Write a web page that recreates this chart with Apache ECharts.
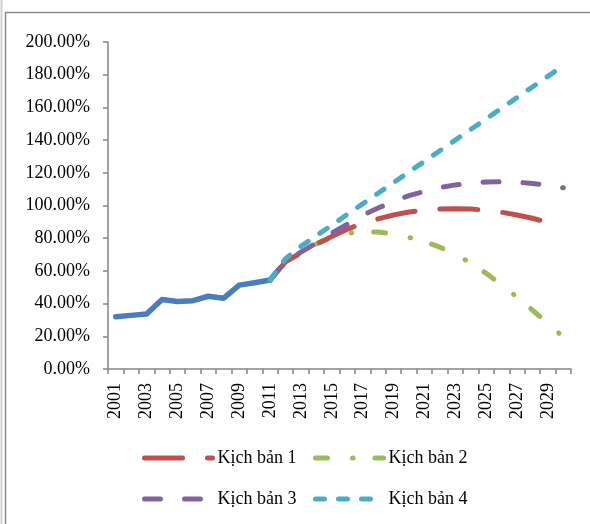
<!DOCTYPE html>
<html>
<head>
<meta charset="utf-8">
<script src="https://cdn.jsdelivr.net/npm/echarts@6/dist/echarts.min.js"></script>
<style>
html,body{margin:0;padding:0;background:#fff;}
#chart{width:590px;height:524px;}
</style>
</head>
<body>
<div id="chart"></div>
<script>
const years = ['2001','2002','2003','2004','2005','2006','2007','2008','2009','2010','2011','2012','2013','2014','2015','2016','2017','2018','2019','2020','2021','2022','2023','2024','2025','2026','2027','2028','2029','2030'];
const actual = [32.0, 32.8, 33.6, 42.5, 41.3, 41.8, 44.5, 43.3, 51.3, 52.8, 54.4, null, null, null, null, null, null, null, null, null, null, null, null, null, null, null, null, null, null, null];
const scenario1 = [null, null, null, null, null, null, null, null, null, null, 54.4, 65.5, 71.0, 76.5, 81.0, 85.5, 89.0, 91.8, 94.2, 96.0, 97.2, 97.8, 98.0, 97.8, 97.1, 95.9, 94.2, 92.2, 89.7, 87.0];
const scenario2 = [null, null, null, null, null, null, null, null, null, null, 54.4, 66.0, 71.0, 76.5, 80.5, 83.0, 84.0, 83.8, 82.5, 80.5, 78.0, 74.5, 70.0, 65.0, 58.5, 51.5, 44.0, 36.0, 28.0, 19.5];
const scenario3 = [null, null, null, null, null, null, null, null, null, null, 54.4, 66.0, 71.5, 77.0, 83.0, 88.5, 94.0, 98.5, 102.5, 106.0, 108.7, 111.0, 112.6, 113.7, 114.4, 114.6, 114.3, 113.5, 112.3, 110.8];
const scenario4 = [null, null, null, null, null, null, null, null, null, null, 54.4, 67.5, 75.0, 81.5, 88.0, 94.5, 101.0, 107.5, 114.0, 120.5, 127.0, 133.5, 140.0, 146.5, 153.0, 159.5, 166.0, 172.5, 179.0, 185.5];
const seriesNames = ['Kịch bản 1', 'Kịch bản 2', 'Kịch bản 3', 'Kịch bản 4'];
const yTicks = [0, 20, 40, 60, 80, 100, 120, 140, 160, 180, 200];

const FONT = '"Liberation Serif", "DejaVu Serif", serif';
const AX = '#868686';
const chart = echarts.init(document.getElementById('chart'), null, {renderer: 'canvas'});

function lineSeries(name, data, color, dash, z) {
  return {
    name: name, type: 'line', data: data, symbol: 'none', smooth: false,
    connectNulls: false, z: z,
    lineStyle: {color: color, width: 5, type: dash, cap: 'round', join: 'round'},
    itemStyle: {color: color},
    emphasis: {disabled: true}
  };
}

function legendAt(name, left, top) {
  return {
    data: [name], left: left, top: top, itemWidth: 68, itemHeight: 14, itemGap: 0,
    padding: 0, selectedMode: false,
    lineStyle: {width: 5, cap: 'round'},
    itemStyle: {opacity: 0, color: 'rgba(0,0,0,0)', borderWidth: 0},
    textStyle: {fontFamily: FONT, fontSize: 18, color: '#000'}
  };
}

chart.setOption({
  animation: false,
  backgroundColor: '#fff',
  graphic: [
    {type: 'line', shape: {x1: 1.5, y1: 0, x2: 1.5, y2: 524}, style: {stroke: '#d0d0d0', lineWidth: 2}, silent: true},
    {type: 'rect', shape: {x: 5.5, y: 12.5, width: 620, height: 530}, style: {fill: null, stroke: '#8a8a8a', lineWidth: 1.5}, silent: true}
  ],
  grid: {left: 108, right: 19, top: 42, bottom: 155, containLabel: false},
  legend: [
    legendAt(seriesNames[0], 142, 449),
    legendAt(seriesNames[1], 313, 449),
    legendAt(seriesNames[2], 142, 490),
    legendAt(seriesNames[3], 313, 490)
  ],
  xAxis: {
    type: 'category', data: years, boundaryGap: true,
    axisLine: {show: true, lineStyle: {color: AX, width: 1.5}},
    axisTick: {show: true, interval: 0, alignWithLabel: false, length: 5, lineStyle: {color: AX, width: 1.5}},
    axisLabel: {interval: 1, rotate: 90, margin: 14, fontFamily: FONT, fontSize: 18, color: '#000'},
    splitLine: {show: false}
  },
  yAxis: {
    type: 'value', min: yTicks[0], max: yTicks[yTicks.length - 1], interval: 20,
    axisLine: {show: true, lineStyle: {color: AX, width: 1.5}},
    axisTick: {show: true, length: 5, lineStyle: {color: AX, width: 1.5}},
    axisLabel: {margin: 18, fontFamily: FONT, fontSize: 18, color: '#000',
      formatter: function (v) { return v.toFixed(2) + '%'; }},
    splitLine: {show: false}
  },
  series: [
    {
      name: 'Thực tế', type: 'line', data: actual, symbol: 'none', z: 2,
      lineStyle: {color: '#4a7ebb', width: 5.5, cap: 'round', join: 'round'},
      itemStyle: {color: '#4a7ebb'}, emphasis: {disabled: true}
    },
    lineSeries(seriesNames[1], scenario2, '#9bbb59', [12, 25, 0.5, 22], 3),
    lineSeries(seriesNames[0], scenario1, '#c0504d', [38, 25], 4),
    lineSeries(seriesNames[2], scenario3, '#8064a2', [16, 24], 5),
    lineSeries(seriesNames[3], scenario4, '#4bacc6', [9, 14], 6)
  ]
});
</script>
</body>
</html>
